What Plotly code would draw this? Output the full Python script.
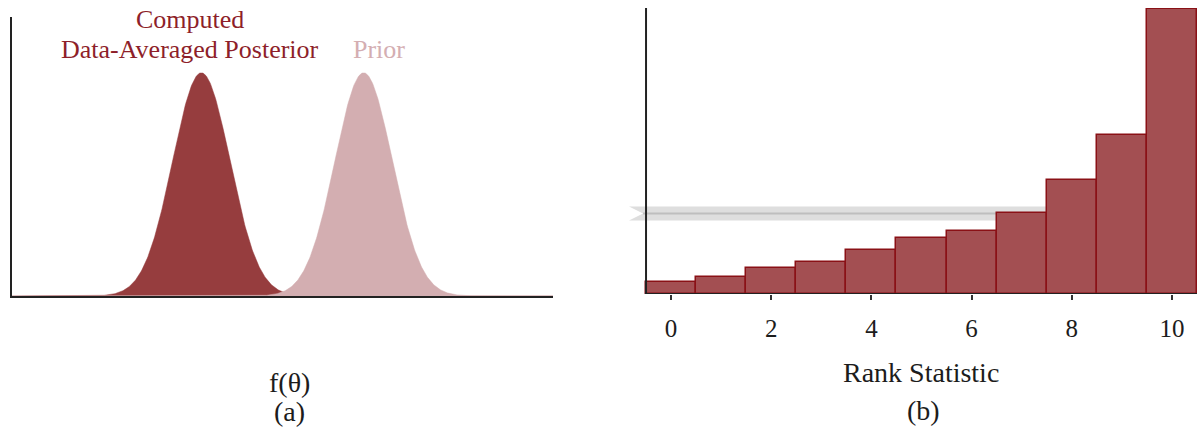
import numpy as np
import plotly.graph_objects as go

W, H = 1199, 432

# ---- panel (a): prior vs. data-averaged posterior (normal densities) ----
density_names = ["Computed Data-Averaged Posterior", "Prior"]
density_means = [3.5, 6.5]
density_sds = [0.53, 0.53]
density_colors = ["#963D3E", "#D3AEB1"]
theta_range = [0.0, 10.0]

# ---- panel (b): SBC rank histogram ----
ranks = list(range(11))
rank_counts = [43, 60, 90, 113, 154, 195, 222, 285, 400, 557, 998]
band_low, band_mid, band_high = 257, 282, 306   # expected-count interval under uniformity
band_left, band_notch = -0.84, -0.56             # swallow-tail end of the band

FONT = "Liberation Serif, Times New Roman, serif"
INK = "#1c1c1c"
AXIS = "#222222"


def px(x):
    return x / W


def py(y):
    return 1 - y / H


fig = go.Figure()

# densities
grid = np.linspace(theta_range[0], theta_range[1], 801)
for name, mu, sd, col in zip(density_names, density_means, density_sds, density_colors):
    dens = np.exp(-0.5 * ((grid - mu) / sd) ** 2) / (sd * np.sqrt(2 * np.pi))
    fig.add_trace(go.Scatter(
        x=grid, y=dens, mode="lines", name=name,
        line=dict(color=col, width=0.5), fill="tozeroy", fillcolor=col,
        xaxis="x", yaxis="y", hoverinfo="skip",
    ))

peak = 1 / (min(density_sds) * np.sqrt(2 * np.pi))

# rank histogram
fig.add_trace(go.Bar(
    x=ranks, y=rank_counts, width=1.0,
    marker=dict(color="#A34F52", line=dict(color="#8A1116", width=1.5)),
    xaxis="x2", yaxis="y2",
))

left_edge = ranks[0] - 0.5
right_edge = ranks[-1] + 0.5
ymax_b = max(rank_counts) * 286 / 285

fig.update_layout(
    width=W, height=H,
    margin=dict(l=0, r=0, t=0, b=0),
    paper_bgcolor="white", plot_bgcolor="white",
    showlegend=False, bargap=0,
    font=dict(family=FONT, color=INK),
    xaxis=dict(domain=[px(12), px(553)], range=theta_range, showline=True,
               linecolor=AXIS, linewidth=2, showticklabels=False, ticks="",
               showgrid=False, zeroline=False),
    yaxis=dict(domain=[py(296), py(17)], range=[0, peak / 0.8], showline=True,
               linecolor=AXIS, linewidth=2, showticklabels=False, ticks="",
               showgrid=False, zeroline=False),
    xaxis2=dict(domain=[px(629), px(1197)], range=[band_left, right_edge],
                anchor="y2", showline=False, showgrid=False, zeroline=False,
                tickmode="array", tickvals=ranks[::2], ticktext=[str(r) for r in ranks[::2]],
                ticks="outside", ticklen=5, tickwidth=1.5, tickcolor="#333333",
                ticklabelstandoff=7,
                tickfont=dict(family=FONT, size=25, color=INK)),
    yaxis2=dict(domain=[py(294), py(8)], range=[0, ymax_b], anchor="x2",
                showline=False, showgrid=False, zeroline=False,
                showticklabels=False, ticks=""),
)

# grey uniformity band with notched left end, kept beneath the bars
band_path = (f"M {band_left},{band_high} L {right_edge},{band_high} "
             f"L {right_edge},{band_low} L {band_left},{band_low} "
             f"L {band_notch},{band_mid} Z")
fig.add_shape(type="path", xref="x2", yref="y2", path=band_path,
              fillcolor="#DEDEDE", line=dict(width=0), layer="below")
fig.add_shape(type="line", xref="x2", yref="y2", x0=band_notch, x1=right_edge,
              y0=band_mid, y1=band_mid, line=dict(color="#BEBEBE", width=2),
              layer="below")

# axis lines of panel (b), starting at the first bin edge
fig.add_shape(type="line", xref="x2", yref="y2 domain", x0=left_edge, x1=left_edge,
              y0=0, y1=1, line=dict(color=AXIS, width=2), layer="above")
fig.add_shape(type="line", xref="x2", yref="y2", x0=left_edge, x1=right_edge,
              y0=0, y1=0, line=dict(color=AXIS, width=2), layer="above")

dark_label = "#8E1F2A"
labels = [
    ("Computed", 190, 20, dark_label, 26),
    ("Data-Averaged Posterior", 190, 50, dark_label, 26),
    ("Prior", 379, 50, "#D4AEB2", 26),
    ("f(θ)", 289, 382, INK, 28),
    ("(a)", 289, 411, INK, 28),
    ("Rank Statistic", 921, 372, INK, 28),
    ("(b)", 923, 410, INK, 28),
]
for text, x, y, col, size in labels:
    fig.add_annotation(text=text, x=px(x), y=py(y), xref="paper", yref="paper",
                       showarrow=False, xanchor="center", yanchor="middle",
                       font=dict(family=FONT, size=size, color=col))

fig.write_html("out.html")
